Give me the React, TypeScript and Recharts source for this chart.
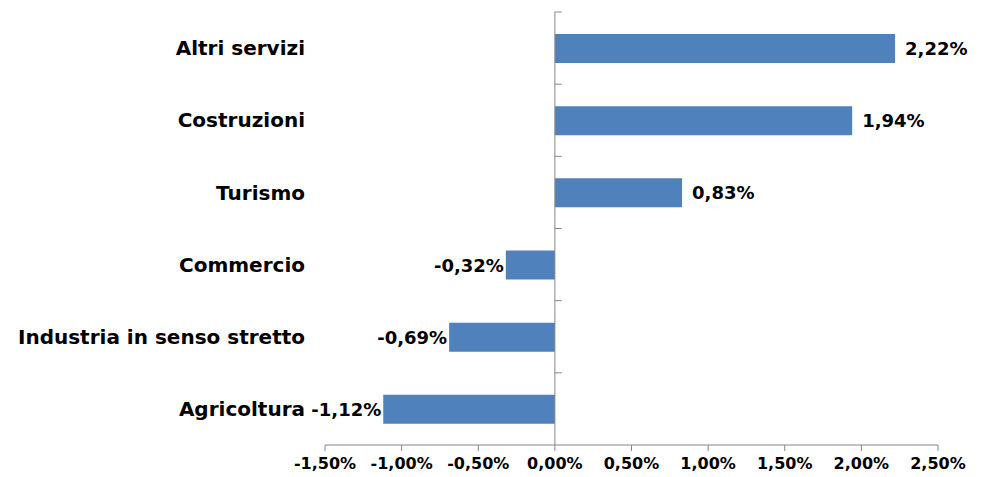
import { BarChart, Bar, XAxis, YAxis, ReferenceLine, LabelList } from 'recharts';

const categories = [
  'Altri servizi',
  'Costruzioni',
  'Turismo',
  'Commercio',
  'Industria in senso stretto',
  'Agricoltura',
];
const values = [2.22, 1.94, 0.83, -0.32, -0.69, -1.12];
const xTicks = [-1.5, -1, -0.5, 0, 0.5, 1, 1.5, 2, 2.5];

const data = categories.map((name, i) => ({ name, value: values[i] }));

const FONT = '"DejaVu Sans", Verdana, sans-serif';
const AXIS_GREY = '#868686';

const pct = (v: number) => `${v.toFixed(2).replace('.', ',')}%`;

function ValueLabel(props: any) {
  const { x, y, width, height, value } = props;
  const left = Math.min(x, x + width);
  const right = Math.max(x, x + width);
  const cy = y + height / 2;
  const neg = value < 0;
  return (
    <text
      x={neg ? left - 2 : right + 10}
      y={cy}
      textAnchor={neg ? 'end' : 'start'}
      dominantBaseline="central"
      fontFamily={FONT}
      fontWeight="bold"
      fontSize={18}
      fill="#000"
    >
      {pct(value)}
    </text>
  );
}

export default function App() {
  return (
    <div style={{ position: 'absolute', left: 0, top: 0, background: '#fff' }}>
      <BarChart
        width={984}
        height={477}
        data={data}
        layout="vertical"
        margin={{ top: 12, right: 46, bottom: 0, left: 0 }}
        barSize={29}
      >
        <XAxis
          type="number"
          domain={[-1.5, 2.5]}
          ticks={xTicks}
          interval={0}
          height={32}
          tickFormatter={pct}
          axisLine={{ stroke: AXIS_GREY }}
          tickLine={{ stroke: AXIS_GREY }}
          tickSize={6}
          tickMargin={7}
          tick={{ fontFamily: FONT, fontWeight: 'bold', fontSize: 16, fill: '#000' }}
        />
        <YAxis
          type="category"
          dataKey="name"
          width={325}
          axisLine={false}
          tickLine={false}
          tickSize={0}
          tickMargin={20}
          interval={0}
          tick={{ fontFamily: FONT, fontWeight: 'bold', fontSize: 20, fill: '#000' }}
        />
        <ReferenceLine x={0} stroke={AXIS_GREY} />
        {/* small ticks on the zero axis at the band edges */}
        {categories.map((c) => (
          <ReferenceLine
            key={c}
            position="start"
            ifOverflow="visible"
            segment={[
              { x: 0, y: c },
              { x: 0.045, y: c },
            ]}
            stroke={AXIS_GREY}
          />
        ))}
        <Bar dataKey="value" fill="#4F81BD" isAnimationActive={false}>
          <LabelList dataKey="value" content={<ValueLabel />} />
        </Bar>
      </BarChart>
    </div>
  );
}
